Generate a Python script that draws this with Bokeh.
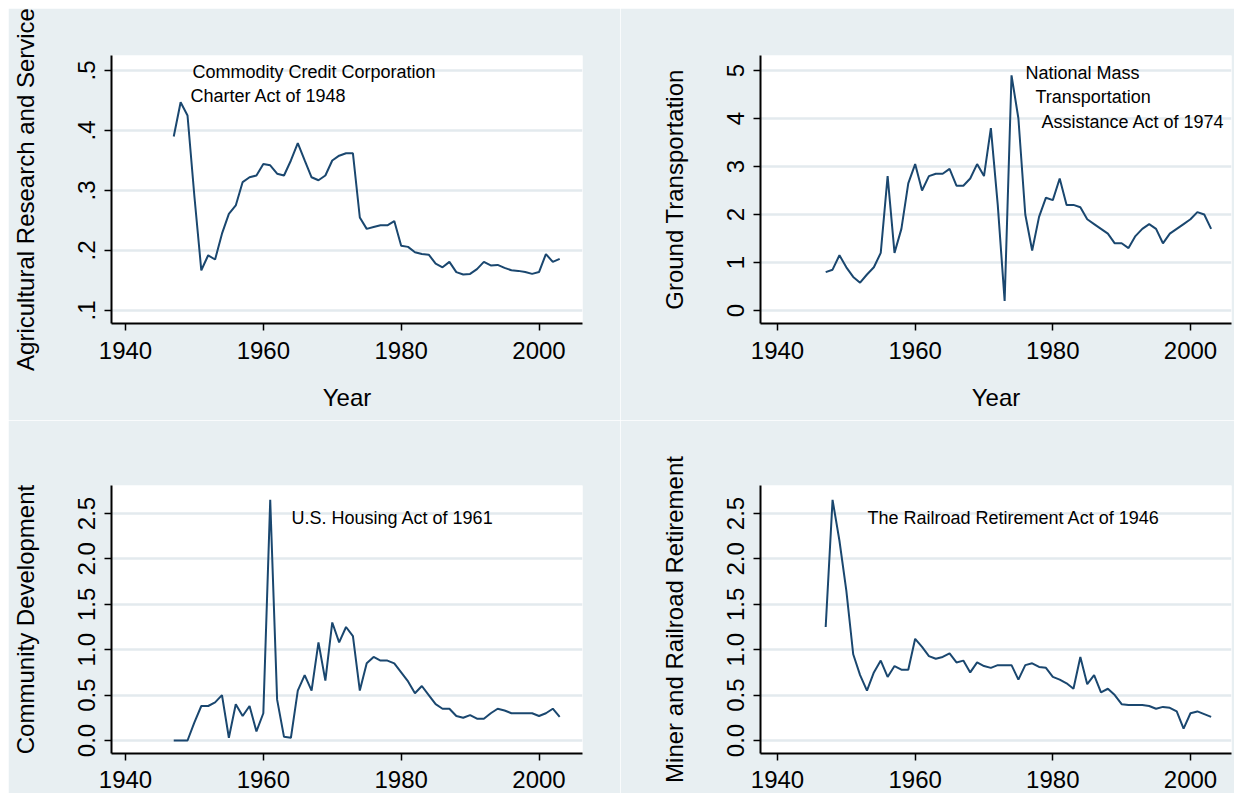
from bokeh.plotting import figure
from bokeh.layouts import column, row
from bokeh.models import FixedTicker, Range1d, Label, Spacer
from bokeh.embed import file_html
from bokeh.resources import INLINE

# ---------------- data ----------------
years = list(range(1947, 2004))

agri = [0.39, 0.447, 0.425, 0.29, 0.167, 0.192, 0.185, 0.228, 0.261, 0.275,
        0.314, 0.322, 0.325, 0.344, 0.342, 0.328, 0.325, 0.35, 0.379, 0.35,
        0.322, 0.317, 0.325, 0.35, 0.358, 0.362, 0.362, 0.255, 0.236, 0.239,
        0.242, 0.242, 0.249, 0.208, 0.206, 0.197, 0.194, 0.193, 0.178, 0.172,
        0.181, 0.164, 0.16, 0.161, 0.169, 0.181, 0.175, 0.176, 0.171, 0.167,
        0.166, 0.164, 0.161, 0.164, 0.194, 0.181, 0.186]

ground = [0.8, 0.85, 1.15, 0.9, 0.7, 0.58, 0.75, 0.9, 1.2, 2.8,
          1.2, 1.7, 2.65, 3.05, 2.5, 2.8, 2.85, 2.85, 2.95, 2.6,
          2.6, 2.75, 3.05, 2.8, 3.8, 2.2, 0.2, 4.9, 4.0, 2.0,
          1.25, 1.95, 2.35, 2.3, 2.75, 2.2, 2.2, 2.15, 1.9, 1.8,
          1.7, 1.6, 1.4, 1.4, 1.3, 1.55, 1.7, 1.8, 1.7, 1.4,
          1.6, 1.7, 1.8, 1.9, 2.05, 2.0, 1.7]

community = [0.0, 0.0, 0.0, 0.2, 0.38, 0.38, 0.42, 0.5, 0.03, 0.4,
             0.27, 0.38, 0.1, 0.3, 2.65, 0.45, 0.04, 0.03, 0.55, 0.72,
             0.55, 1.08, 0.66, 1.3, 1.08, 1.25, 1.15, 0.55, 0.85, 0.92,
             0.88, 0.88, 0.85, 0.75, 0.65, 0.52, 0.6, 0.5, 0.4, 0.35,
             0.35, 0.27, 0.25, 0.28, 0.24, 0.24, 0.3, 0.35, 0.33, 0.3,
             0.3, 0.3, 0.3, 0.27, 0.3, 0.35, 0.26]

miner = [1.25, 2.65, 2.2, 1.65, 0.95, 0.72, 0.55, 0.75, 0.88, 0.7,
         0.82, 0.78, 0.78, 1.12, 1.03, 0.93, 0.9, 0.92, 0.96, 0.86,
         0.88, 0.75, 0.86, 0.82, 0.8, 0.83, 0.83, 0.83, 0.67, 0.83,
         0.85, 0.81, 0.8, 0.7, 0.67, 0.63, 0.57, 0.92, 0.62, 0.72,
         0.53, 0.57, 0.5, 0.4, 0.39, 0.39, 0.39, 0.38, 0.35, 0.37,
         0.36, 0.32, 0.13, 0.3, 0.32, 0.29, 0.26]

x_ticks = [1940, 1960, 1980, 2000]
agri_ticks = [0.1, 0.2, 0.3, 0.4, 0.5]
agri_tick_labels = [".1", ".2", ".3", ".4", ".5"]
ground_ticks = [0, 1, 2, 3, 4, 5]
ground_tick_labels = ["0", "1", "2", "3", "4", "5"]
cd_ticks = [0, 0.5, 1, 1.5, 2, 2.5]
cd_tick_labels = ["0.0", "0.5", "1.0", "1.5", "2.0", "2.5"]

titles = ["Agricultural Research and Service", "Ground Transportation",
          "Community Development", "Miner and Railroad Retirement"]
x_title = "Year"
notes_agri = ["Commodity Credit Corporation", "Charter Act of 1948"]
notes_ground = ["National Mass", "Transportation", "Assistance Act of 1974"]
notes_cd = ["U.S. Housing Act of 1961"]
notes_mr = ["The Railroad Retirement Act of 1946"]

# ---------------- style ----------------
BG = "#e8eff2"
GRID = "#e3eaee"
LINE = "#1a476f"
FONT = "Liberation Sans"


def make_panel(width, height, borders, xr, yr, yvals, yticks, ylabels,
               ytitle, xtitle, notes, bottom_row):
    bl, br, bt, bb = borders
    p = figure(width=width, height=height,
               x_range=Range1d(*xr), y_range=Range1d(*yr),
               output_backend="svg", toolbar_location=None,
               min_border_left=bl, min_border_right=br,
               min_border_top=bt, min_border_bottom=bb)
    p.border_fill_color = BG
    p.background_fill_color = "white"
    p.outline_line_color = None
    p.xgrid.visible = False
    p.ygrid.grid_line_color = GRID
    p.ygrid.grid_line_width = 2.5

    p.xaxis.ticker = FixedTicker(ticks=x_ticks)
    p.yaxis.ticker = FixedTicker(ticks=yticks)
    p.yaxis.major_label_overrides = dict(zip(yticks, ylabels))
    p.yaxis.major_label_orientation = "parallel"

    for ax in (p.xaxis, p.yaxis):
        ax.axis_line_width = 2
        ax.axis_line_color = "black"
        ax.major_tick_line_width = 1.5
        ax.major_tick_line_color = "black"
        ax.major_tick_out = 7
        ax.major_tick_in = 0
        ax.minor_tick_out = 0
        ax.minor_tick_in = 0
        ax.major_label_text_font = FONT
        ax.major_label_text_font_size = "24px"
        ax.major_label_text_color = "black"
        ax.axis_label_text_font = FONT
        ax.axis_label_text_font_size = "24px"
        ax.axis_label_text_font_style = "normal"
        ax.axis_label_text_color = "black"

    p.yaxis.axis_label = ytitle
    p.yaxis.major_label_standoff = 9
    p.yaxis.axis_label_standoff = 37
    if xtitle:
        p.xaxis.axis_label = xtitle
        p.xaxis.axis_label_standoff = 22
    p.xaxis.major_label_standoff = 10 if bottom_row else 11

    p.line(years, yvals, line_color=LINE, line_width=2)

    for (nx, ny, txt) in notes:
        p.add_layout(Label(x=nx, y=ny, text=txt, text_font=FONT,
                           text_font_size="18px", text_color="black",
                           text_baseline="middle", text_align="left"))
    return p


LEFT_W, RIGHT_W = 612, 614
TOP_H, BOT_H = 412, 373
left_x = (1937.97, 2006.31)
right_x = (1937.53, 2005.96)
bottom_y = (-0.1432, 2.8084)

p1 = make_panel(LEFT_W, TOP_H, (103, 38, 47, 97), left_x, (0.0783, 0.525),
                agri, agri_ticks, agri_tick_labels, titles[0], x_title,
                [(1949.72, 0.4967, notes_agri[0]), (1949.43, 0.4583, notes_agri[1])],
                False)
p2 = make_panel(RIGHT_W, TOP_H, (140, 3, 47, 97), right_x, (-0.271, 5.3125),
                ground, ground_ticks, ground_tick_labels, titles[1], x_title,
                [(1976.03, 4.958, notes_ground[0]), (1977.48, 4.4375, notes_ground[1]),
                 (1978.35, 3.917, notes_ground[2])],
                False)
p3 = make_panel(LEFT_W, BOT_H, (103, 38, 65, 40), left_x, bottom_y,
                community, cd_ticks, cd_tick_labels, titles[2], None,
                [(1964.09, 2.445, notes_cd[0])], True)
p4 = make_panel(RIGHT_W, BOT_H, (140, 3, 65, 40), right_x, bottom_y,
                miner, cd_ticks, cd_tick_labels, titles[3], None,
                [(1953.08, 2.445, notes_mr[0])], True)

grid = column(row(p1, p2), row(p3, p4))
layout = column(Spacer(width=LEFT_W + RIGHT_W + 8, height=8),
                row(Spacer(width=8, height=TOP_H + BOT_H), grid))

open("out.html", "w").write(file_html(layout, INLINE))
